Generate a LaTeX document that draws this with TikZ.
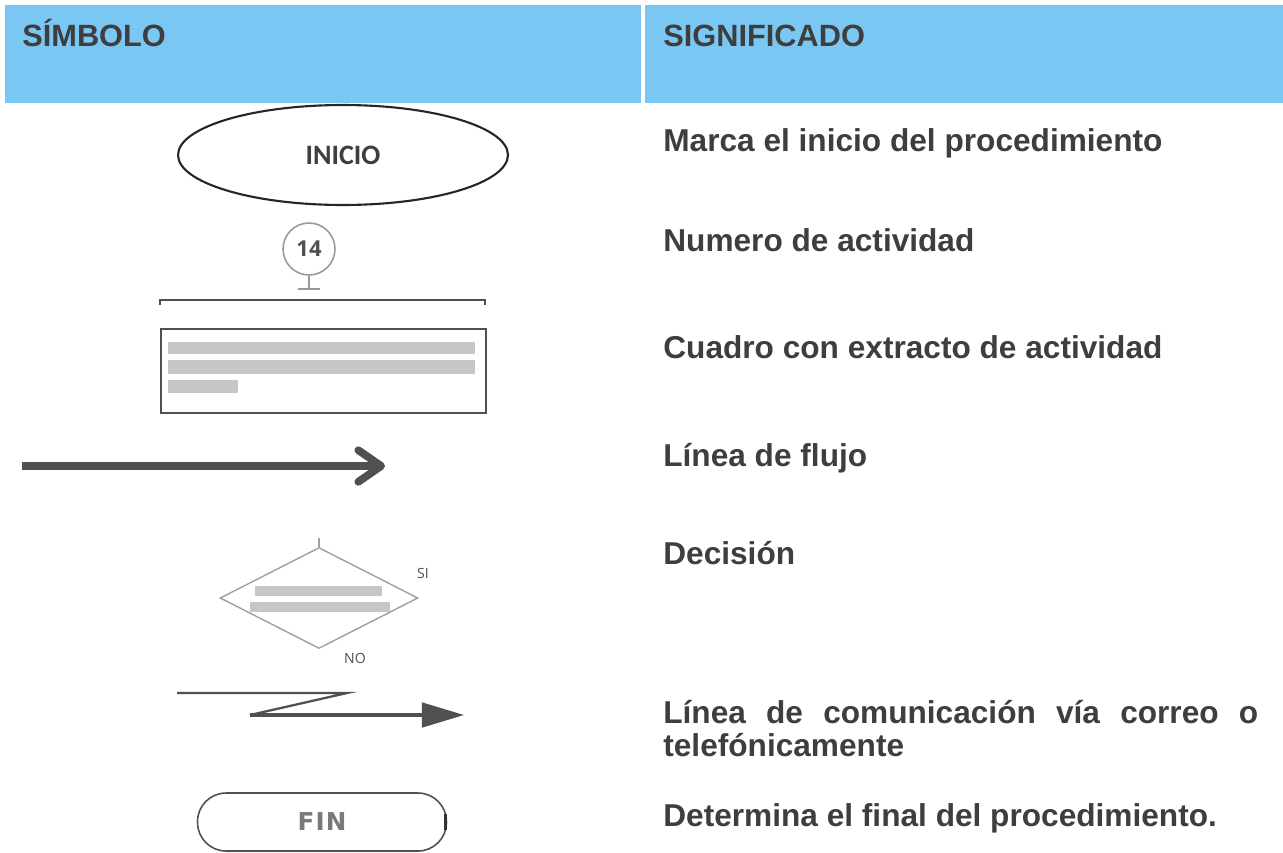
\documentclass[tikz,border=0pt]{standalone}
\usepackage{fontspec}
\setmainfont{Liberation Sans}
\newfontfamily\calfont{Carlito}
\newfontfamily\symfont{Open Sans}
\newfontfamily\finfont[LetterSpace=5]{DejaVu Sans}
\usetikzlibrary{arrows.meta,shapes.geometric}

\definecolor{headblue}{RGB}{123,199,244}
\definecolor{inkgray}{RGB}{62,62,62}
\definecolor{symgray}{RGB}{80,80,80}

\tikzset{
  head/.style={anchor=base west, inner sep=0pt, text=inkgray, font=\bfseries\fontsize{17.5}{20}\selectfont},
  meaning/.style={anchor=base west, inner sep=0pt, text=inkgray, font=\bfseries\fontsize{18}{21}\selectfont},
  bar/.style={fill=gray!45, draw=none},
  small/.style={inner sep=0pt, text=symgray, font=\symfont\fontsize{8}{9}\selectfont},
}

\begin{document}
\begin{tikzpicture}[x=0.02cm, y=-0.02cm]
\useasboundingbox (0,0) rectangle (1283,852);

% header
\fill[headblue] (5,5) rectangle (641,103);
\fill[headblue] (645,5) rectangle (1283,103);
\node[head] (hsym) at (22,46) {SÍMBOLO};
\node[head] (hmean) at (663,46) {SIGNIFICADO};

% symbols
\node[draw=black!85, line width=1.2pt, ellipse, minimum width=6.6cm, minimum height=2cm,
      font=\calfont\bfseries\fontsize{16}{18}\selectfont, text=inkgray] (inicio) at (343,155) {INICIO};

\node[draw=gray!80, line width=0.9pt, circle, minimum size=1.04cm, inner sep=0pt,
      font=\symfont\bfseries\fontsize{12.5}{14}\selectfont, text=symgray] (num) at (309,249) {14};
\draw[gray!80, line width=0.9pt] (num.south) -- ++(0,13) coordinate (numfoot);
\draw[gray!80, line width=0.9pt] (numfoot) ++(-11,0) -- ++(22,0);

\draw[symgray, line width=0.9pt] (160,305) -- (160,300) -- (485,300) -- (485,305);
\node[draw=symgray, line width=1.1pt, anchor=north west, minimum width=6.5cm, minimum height=1.68cm] (extract) at (160,328) {};
\fill[bar] (168,342) rectangle (475,354);
\fill[bar] (168,360) rectangle (475,374);
\fill[bar] (168,380) rectangle (238,393);

\coordinate (flowA) at (22,466);
\coordinate (flowB) at (385,466);
\draw[symgray, line width=4.4pt, -{Straight Barb[round, length=13pt, width=18pt]}] (flowA) -- (flowB);

\node[draw=gray!75, line width=0.8pt, diamond, aspect=2, minimum width=3.96cm, minimum height=2.02cm, inner sep=0pt] (dec) at (319,598) {};
\draw[gray!75, line width=0.8pt] (dec.north) -- ++(0,-9);
\fill[bar] (255,586) rectangle (382,596);
\fill[bar] (250,602) rectangle (390,612);
\node[small] (si) at (423,573) {SI};
\node[small] (no) at (355,658) {NO};

\coordinate (commA) at (177,693);
\coordinate (commB) at (347,693);
\coordinate (commC) at (250,715);
\coordinate (commD) at (464,715);
\draw[symgray, line width=1.3pt, line join=miter] (commA) -- (commB) -- (commC);
\draw[symgray, line width=1.8pt, -{Triangle[length=24pt, width=14pt]}] (commC) -- (commD);

\node[draw=symgray, line width=0.9pt, rounded corners=0.57cm, minimum width=4.98cm, minimum height=1.16cm,
      font=\finfont\bfseries\fontsize{14}{16}\selectfont, text=gray!95!black] (fin) at (322,822) {FIN};
\draw[black!80, line width=1.6pt] (fin.east) ++(-1.5,-8) -- ++(0,16);

% meanings
\node[meaning] (mInicio) at (663,151) {Marca el inicio del procedimiento};
\node[meaning] (mNum) at (663,251) {Numero de actividad};
\node[meaning] (mCuadro) at (663,358) {Cuadro con extracto de actividad};
\node[meaning] (mFlujo) at (663,466) {Línea de flujo};
\node[meaning] (mDec) at (663,564) {Decisión};
\node[meaning] (mComA) at (663,723) {\makebox[11.9cm][s]{Línea de comunicación vía correo o}};
\node[meaning] (mComB) at (663,756) {telefónicamente};
\node[meaning] (mFin) at (663,826) {Determina el final del procedimiento.};
\end{tikzpicture}
\end{document}
